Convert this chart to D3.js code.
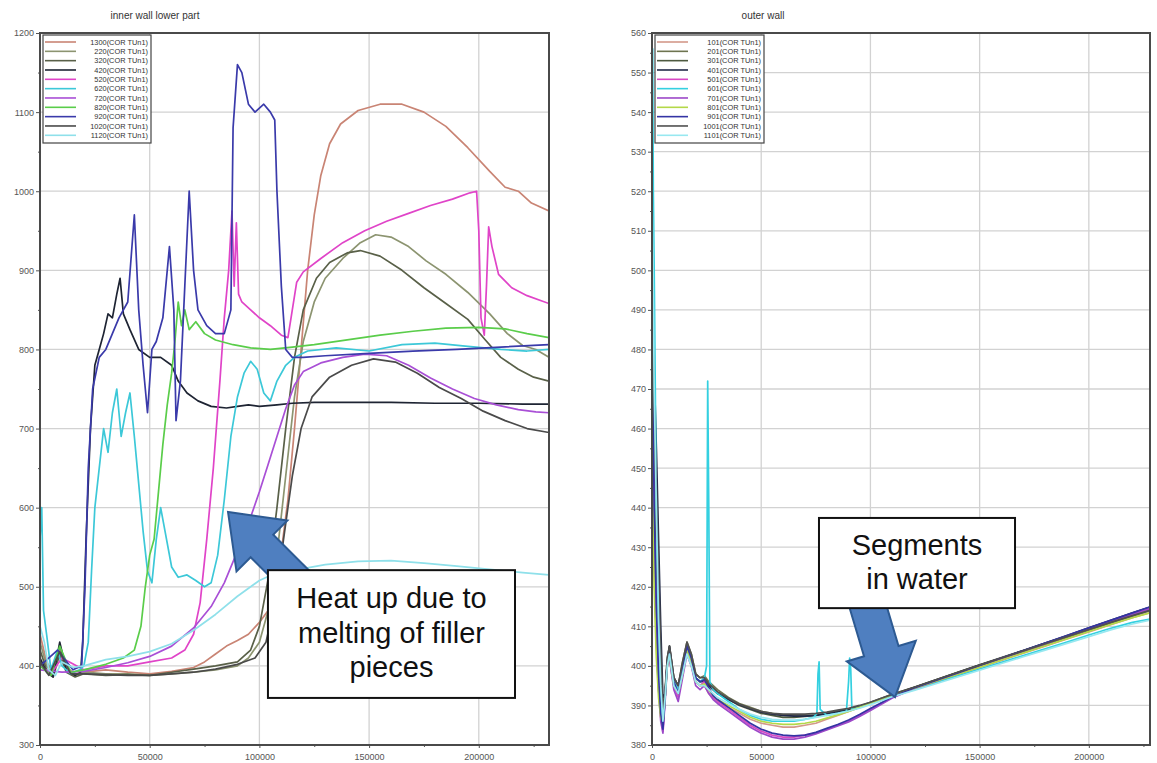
<!DOCTYPE html>
<html><head><meta charset="utf-8">
<script src="https://cdn.jsdelivr.net/npm/d3@7"></script>
<style>body{margin:0;background:#fff} svg{display:block} text{font-family:"Liberation Sans",Arial,sans-serif}</style>
</head><body><svg id="c" width="1157" height="763"></svg>
<script>
// ---------- LEFT PANEL DATA (inner wall lower part) ----------
const leftTitle = "inner wall lower part";
const leftNames = ["1300(COR TUn1)","220(COR TUn1)","320(COR TUn1)","420(COR TUn1)","520(COR TUn1)","620(COR TUn1)","720(COR TUn1)","820(COR TUn1)","920(COR TUn1)","1020(COR TUn1)","1120(COR TUn1)"];
const leftColors = ["#c98474","#8c9470","#596048","#1e2433","#e044c8","#3cc8d8","#a94fd6","#5acd4a","#3a3aaa","#4a4a4a","#8fe0ea"];
const leftYTicks = [300,400,500,600,700,800,900,1000,1100,1200];
const leftXTicks = [0,50000,100000,150000,200000];

const L130 = [[0,440],[3000,405],[6000,392],[9000,420],[12000,398],[16000,390],[20000,392],[30000,395],[40000,392],[50000,390],[60000,393],[70000,398],[75000,405],[80000,415],[85000,425],[90000,432],[95000,440],[100000,455],[104000,470],[107000,500],[110000,545],[113000,610],[116000,700],[119000,800],[122000,900],[125000,970],[128000,1020],[132000,1060],[137000,1085],[145000,1102],[155000,1110],[165000,1110],[175000,1100],[185000,1082],[195000,1055],[205000,1025],[212000,1005],[218000,1000],[224000,985],[232000,975]];
const L220 = [[0,430],[3000,400],[6000,388],[9000,425],[12000,395],[16000,388],[20000,392],[30000,390],[40000,390],[50000,388],[60000,390],[70000,392],[80000,395],[90000,400],[95000,410],[100000,430],[104000,470],[108000,540],[112000,640],[116000,740],[120000,810],[125000,860],[130000,890],[138000,915],[146000,935],[153000,945],[160000,942],[168000,930],[176000,912],[185000,895],[195000,872],[205000,845],[213000,820],[220000,805],[226000,800],[232000,790]];
const L320 = [[0,420],[3000,395],[6000,386],[9000,415],[12000,392],[16000,386],[20000,390],[30000,388],[40000,389],[50000,388],[60000,392],[70000,396],[80000,400],[90000,405],[96000,420],[100000,450],[104000,510],[108000,600],[112000,700],[116000,790],[120000,850],[126000,890],[132000,910],[140000,922],[146000,925],[155000,918],[165000,900],[175000,878],[185000,858],[195000,838],[203000,812],[210000,790],[218000,775],[225000,765],[232000,760]];
const L420 = [[0,410],[3000,392],[6000,386],[9000,430],[12000,395],[16000,388],[18500,392],[19500,430],[21000,560],[23000,700],[25000,780],[27000,800],[29000,820],[31000,845],[33000,840],[35000,870],[36500,890],[38000,845],[41000,825],[45000,800],[50000,790],[55000,790],[60000,780],[63000,760],[67000,745],[72000,735],[78000,728],[85000,726],[90000,728],[95000,730],[100000,728],[108000,730],[115000,732],[125000,733],[140000,733],[160000,733],[180000,732],[200000,732],[220000,731],[232000,731]];
const L520 = [[0,400],[5000,390],[10000,410],[20000,395],[30000,400],[40000,400],[50000,405],[60000,410],[66000,420],[70000,440],[73000,480],[76000,560],[79000,650],[82000,760],[84000,840],[86000,900],[87500,975],[88500,880],[89500,960],[90500,870],[92000,860],[96000,850],[100000,840],[105000,830],[110000,818],[113000,815],[115000,850],[117000,885],[120000,898],[128000,915],[138000,935],[148000,950],[158000,962],[168000,972],[178000,982],[188000,990],[196000,998],[199000,1000],[200000,950],[201000,840],[202500,818],[203500,880],[204500,955],[206000,930],[209000,895],[215000,878],[222000,868],[232000,858]];
const L620 = [[0,560],[800,600],[1600,470],[3000,440],[5000,395],[8000,420],[10000,400],[14000,390],[18000,395],[20000,400],[22000,430],[23500,520],[25000,600],[27000,650],[29000,700],[31000,670],[33000,720],[35000,750],[37000,690],[39000,720],[41000,745],[43000,690],[45000,630],[47000,570],[49000,520],[51000,505],[53000,560],[55000,600],[57000,570],[60000,525],[63000,512],[67000,515],[71000,508],[75000,500],[78000,505],[81000,540],[84000,610],[87000,690],[90000,740],[93000,770],[96000,785],[99000,775],[102000,745],[105000,735],[108000,760],[112000,780],[116000,790],[122000,798],[135000,802],[150000,798],[165000,806],[180000,808],[195000,804],[210000,800],[222000,798],[232000,800]];
const L720 = [[0,395],[10000,392],[20000,393],[30000,398],[40000,404],[50000,412],[60000,425],[70000,448],[78000,475],[84000,505],[90000,545],[95000,580],[100000,620],[104000,655],[108000,690],[112000,725],[116000,755],[120000,772],[128000,783],[138000,790],[148000,794],[158000,792],[168000,780],[178000,764],[188000,750],[198000,738],[208000,730],[218000,724],[226000,721],[232000,720]];
const L820 = [[0,400],[5000,388],[9000,425],[14000,392],[20000,395],[30000,402],[38000,410],[43000,420],[46000,450],[48000,500],[50000,540],[52000,560],[54000,620],[56000,680],[58000,730],[60000,770],[61500,810],[63000,860],[64500,830],[66000,850],[68000,825],[71000,835],[75000,820],[80000,812],[88000,806],[96000,802],[105000,800],[115000,803],[125000,806],[140000,812],[155000,818],[170000,823],[185000,827],[200000,828],[212000,826],[222000,820],[232000,815]];
const L920 = [[0,400],[8000,420],[15000,395],[19000,400],[20500,500],[22000,650],[24000,750],[27000,790],[30000,800],[33000,820],[36000,840],[40000,860],[43000,970],[45000,850],[47000,780],[49000,720],[51000,800],[53000,810],[56000,840],[59000,930],[61000,850],[62000,710],[64000,760],[66000,880],[68000,1000],[70000,900],[72000,850],[76000,830],[80000,820],[84000,820],[87000,850],[88000,1080],[90000,1160],[92000,1150],[95000,1110],[98000,1100],[102000,1110],[105000,1100],[107000,1090],[108000,1000],[110000,880],[112000,800],[115000,790],[120000,790],[130000,792],[150000,795],[170000,798],[190000,800],[210000,803],[232000,806]];
const L1020 = [[0,405],[4000,388],[9000,418],[14000,390],[20000,390],[30000,389],[40000,388],[50000,388],[60000,390],[70000,392],[80000,396],[90000,402],[98000,410],[103000,430],[107000,480],[111000,560],[115000,640],[119000,700],[124000,740],[132000,765],[142000,780],[152000,788],[162000,784],[172000,770],[182000,752],[192000,738],[202000,722],[212000,710],[222000,700],[232000,695]];
const L1120 = [[0,450],[2000,430],[4000,395],[7000,388],[10000,405],[15000,398],[20000,400],[30000,408],[40000,412],[50000,418],[60000,428],[70000,445],[80000,465],[90000,488],[100000,508],[108000,518],[118000,522],[130000,528],[145000,532],[160000,533],[175000,530],[190000,526],[205000,522],[220000,518],[232000,515]];
const leftSeriesValues = [L130,L220,L320,L420,L520,L620,L720,L820,L920,L1020,L1120];

// ---------- RIGHT PANEL DATA (outer wall) ----------
const rightTitle = "outer wall";
const rightNames = ["101(COR TUn1)","201(COR TUn1)","301(COR TUn1)","401(COR TUn1)","501(COR TUn1)","601(COR TUn1)","701(COR TUn1)","801(COR TUn1)","901(COR TUn1)","1001(COR TUn1)","1101(COR TUn1)"];
const rightColors = ["#d4998a","#6e7450","#4e5a40","#222a48","#d848c4","#34d0e0","#9c48c8","#b4d848","#3434a4","#505050","#98e8f0"];
const rightYTicks = [380,390,400,410,420,430,440,450,460,470,480,490,500,510,520,530,540,550,560];
const rightXTicks = [0,50000,100000,150000,200000];
const timeR = [0,500,1000,2000,3000,4000,5000,6000,7000,8000,9000,10000,12000,14000,16000,18000,20000,22000,24000,26000,28000,30000,35000,40000,45000,50000,55000,60000,65000,70000,75000,80000,85000,90000,95000,100000,105000,110000,120000,130000,140000,150000,160000,170000,180000,190000,200000,210000,220000,230000];
const R101 = [455,440,425,405,394,388,386,393,400,402,398,395,393,399,403,400,396,395,395,393,392,391,389.5,388,386.5,385.5,385,384.5,384.5,385,385.5,386.5,387.5,388.5,389.5,390.5,391.5,392.5,394,395.9,397.8,399.6,401.4,403.2,405,406.8,408.6,410.4,412.2,413.8];
const R201 = [490,478,462,440,418,400,388,394,402,405,401,397,395,401,406,403,398,397,397.5,396,395,394,392,390.5,389.5,388.5,388,387.5,387.5,387.5,387.5,388,388.5,389,389.5,390.5,391.5,392.5,394.3,396.2,398.1,400,401.8,403.6,405.4,407.2,409,410.8,412.6,414.3];
const R301 = [470,462,450,428,408,394,386,392,401,404,400,396,394,400,405,402,397,396,396.5,395,394,393,391.5,390,389,388,387.5,387,387,387.2,387.5,388,388.5,389,389.8,390.8,391.8,392.8,394.6,396.5,398.4,400.3,402.1,403.9,405.7,407.5,409.3,411.1,412.9,414.6];
const R401 = [505,492,475,455,432,410,392,393,401,405,401,397,395,400,405,402,397,396,396,395,394,393,391.5,390.2,389.2,388.3,387.8,387.5,387.3,387.3,387.5,387.8,388.3,388.8,389.5,390.5,391.5,392.6,394.5,396.4,398.3,400.2,402,403.9,405.8,407.7,409.6,411.5,413.4,415.2];
const R501 = [470,455,432,410,396,387,383.5,392,401,403,399,395,392,398,404,401,396,395,396,394,392,391,389,387,385,383.5,382.5,382,382,382.5,383,384,385,386,387.5,389,390.5,392,394.3,396.2,398.1,400,401.9,403.7,405.6,407.5,409.4,411.3,413.1,415];
const R601t = [0,300,600,1000,1500,2000,3000,4000,5000,6000,7000,8000,9000,10000,12000,14000,16000,18000,20000,22000,24000,25000,25500,26000,26500,28000,30000,35000,40000,45000,50000,55000,60000,65000,70000,74000,75500,76000,76500,77000,80000,85000,89000,90000,90500,91000,91500,95000,100000,105000,110000,120000,130000,140000,150000,160000,170000,180000,190000,200000,210000,220000,230000];
const R601 = [545,556,520,500,470,440,410,392,385,392,400,404,400,396,394,399,405,402,397,396,397,400,472,440,396,394,393,391,389,387.5,386.5,386,386,386,386.5,387,388,398,401,389,387.5,388,388.5,396,402,399,389,389.5,390.5,391.5,392.5,394,395.8,397.5,399.2,400.9,402.6,404.3,406,407.8,409.5,411,412];
const R701 = [462,448,428,407,394,386,383,391,400,402,398,394,391,397,403,400,395,394,395,393,391.5,390.5,388.5,386.5,384.5,383,382,381.5,381.5,382,382.8,383.8,384.8,385.8,387.2,388.7,390.3,391.9,394.2,396.1,398,399.9,401.8,403.6,405.5,407.4,409.3,411.2,413,414.8];
const R801 = [450,438,420,402,392,387,385,392,400,403,399,395,393,398,404,401,396,395,395.5,394,392.5,391.5,390,388.5,387,386,385.5,385.2,385.2,385.5,386,386.8,387.6,388.5,389.5,390.5,391.6,392.7,394.3,396.1,397.9,399.7,401.5,403.3,405.1,406.9,408.7,410.5,412.2,413.7];
const R901 = [480,465,440,415,398,388,384,392,401,404,400,396,393,399,405,402,397,396,396.5,394.5,392.5,391.5,389.5,387.5,385.5,384,383,382.5,382.3,382.5,383.2,384.2,385.2,386.3,387.7,389.2,390.7,392.2,394.4,396.3,398.2,400.1,402,403.9,405.8,407.7,409.6,411.5,413.4,415.3];
const R1001 = [495,482,466,445,424,404,389,393,402,405,401,397,395,401,406,403,398,397,397,395.5,394.5,393.5,391.8,390.3,389.3,388.5,388,387.8,387.8,387.8,388,388.3,388.8,389.3,390,390.8,391.8,392.8,394.6,396.5,398.4,400.2,402,403.8,405.6,407.4,409.2,411,412.7,414.4];
const R1101 = [520,500,470,440,412,395,386,392,400,403,399,395,393,398,403,400,396,395,395,394,393,392,390.5,389,387.8,387,386.5,386.3,386.3,386.5,387,387.5,388,388.6,389.3,390.2,391.2,392.2,393.8,395.5,397.2,398.9,400.6,402.3,404,405.7,407.4,409.1,410.6,411.8];
const rightSeriesValues = [
  d3.zip(timeR,R101), d3.zip(timeR,R201), d3.zip(timeR,R301), d3.zip(timeR,R401), d3.zip(timeR,R501),
  d3.zip(R601t,R601), d3.zip(timeR,R701), d3.zip(timeR,R801), d3.zip(timeR,R901), d3.zip(timeR,R1001), d3.zip(timeR,R1101)];

// ---------- ANNOTATIONS (data coordinates) ----------
const leftNote = {lines:["Heat up due to","melting of filler","pieces"], box:[103900,521,216500,359.5], tail:[122150,493.4], tip:[85700,594.5]};
const rightNote = {lines:["Segments","in water"], box:[76450,437.4,166200,414.6], tail:[97970,416.7], tip:[111250,392.1]};

// ---------- DRAWING ----------
const svg = d3.select("#c");
svg.append("rect").attr("width",1157).attr("height",763).attr("fill","#fff");

function arrowPts(t, h, sw, hw, hl){
  const dx=h[0]-t[0], dy=h[1]-t[1], L=Math.hypot(dx,dy), ux=dx/L, uy=dy/L, nx=-uy, ny=ux;
  const bx=h[0]-ux*hl, by=h[1]-uy*hl;
  return [[t[0]+nx*sw,t[1]+ny*sw],[bx+nx*sw,by+ny*sw],[bx+nx*hw,by+ny*hw],[h[0],h[1]],[bx-nx*hw,by-ny*hw],[bx-nx*sw,by-ny*sw],[t[0]-nx*sw,t[1]-ny*sw]];
}

function panel(o){
  const g = svg.append("g");
  const x = d3.scaleLinear().domain(o.xDomain).range([o.left,o.right]);
  const y = d3.scaleLinear().domain(o.yDomain).range([o.bottom,o.top]);
  // grid
  g.append("g").selectAll("line").data(o.xTicks.filter(d=>d>o.xDomain[0])).join("line")
    .attr("x1",d=>x(d)).attr("x2",d=>x(d)).attr("y1",o.top).attr("y2",o.bottom)
    .attr("stroke","#d2d2d2").attr("stroke-width",1.3);
  g.append("g").selectAll("line").data(o.yTicks.filter(d=>d>o.yDomain[0]&&d<o.yDomain[1])).join("line")
    .attr("y1",d=>y(d)).attr("y2",d=>y(d)).attr("x1",o.left).attr("x2",o.right)
    .attr("stroke","#d2d2d2").attr("stroke-width",1.3);
  // clip
  const cid = "clip"+o.key;
  svg.append("clipPath").attr("id",cid).append("rect")
    .attr("x",o.left).attr("y",o.top).attr("width",o.right-o.left).attr("height",o.bottom-o.top);
  const series = o.values.map((v,i)=>({name:o.names[i],color:o.colors[i],values:v}));
  const line = d3.line().x(d=>x(d[0])).y(d=>y(d[1])).curve(d3.curveLinear);
  g.append("g").attr("clip-path",`url(#${cid})`).selectAll("path").data(series).join("path")
    .attr("d",d=>line(d.values)).attr("fill","none").attr("stroke",d=>d.color)
    .attr("stroke-width",1.7).attr("stroke-linejoin","round");
  // axes
  const styleAxis = sel => { sel.select(".domain").remove(); sel.selectAll(".tick line").attr("stroke","#555");
    sel.selectAll("text").attr("font-size","9px").attr("fill","#555").attr("font-family","Liberation Sans, Arial, sans-serif"); };
  g.append("g").attr("transform",`translate(${o.left},0)`)
    .call(d3.axisLeft(y).tickValues(o.yTicks).tickSize(4).tickPadding(2).tickFormat(d3.format("d"))).call(styleAxis);
  g.append("g").attr("transform",`translate(${o.left},0)`)
    .call(d3.axisLeft(y).tickValues(o.yMinor).tickSize(2).tickFormat("")).call(styleAxis);
  g.append("g").attr("transform",`translate(0,${o.bottom})`)
    .call(d3.axisBottom(x).tickValues(o.xTicks).tickSize(3).tickPadding(6).tickFormat(d3.format("d"))).call(styleAxis);
  g.append("g").attr("transform",`translate(0,${o.bottom})`)
    .call(d3.axisBottom(x).tickValues(o.xMinor).tickSize(2).tickFormat("")).call(styleAxis);
  // frame
  g.append("rect").attr("x",o.left).attr("y",o.top).attr("width",o.right-o.left).attr("height",o.bottom-o.top)
    .attr("fill","none").attr("stroke","#4a4a4a").attr("stroke-width",2);
  // title
  g.append("text").attr("x",o.left+o.titleDx).attr("y",19).attr("text-anchor","middle")
    .attr("font-size","10px").attr("fill","#333").text(o.title);
  // legend
  const lg = g.append("g");
  lg.append("rect").attr("x",o.left+3).attr("y",o.top+2).attr("width",o.legendW).attr("height",108)
    .attr("fill","#fff").attr("stroke","#444").attr("stroke-width",1.2);
  const it = lg.selectAll("g").data(series).join("g").attr("transform",(d,i)=>`translate(${o.left+3},${o.top+9+i*9.33})`);
  it.append("line").attr("x1",2).attr("x2",33).attr("stroke",d=>d.color).attr("stroke-width",1.6);
  it.append("text").attr("x",o.legendW-3).attr("y",2.7).attr("text-anchor","end").attr("font-size","7.4px").attr("fill","#333").text(d=>d.name);
  // annotation
  const n = o.note;
  const pts = arrowPts([x(n.tail[0]),y(n.tail[1])],[x(n.tip[0]),y(n.tip[1])],o.shaftHW,36,48);
  g.append("path").attr("d",d3.line()(pts)+"Z").attr("fill","#4f7fc0").attr("stroke","#2d5a92").attr("stroke-width",2).attr("stroke-linejoin","miter");
  const bx0=x(n.box[0]), by0=y(n.box[1]), bx1=x(n.box[2]), by1=y(n.box[3]);
  g.append("rect").attr("x",bx0).attr("y",by0).attr("width",bx1-bx0).attr("height",by1-by0)
    .attr("fill","#fff").attr("stroke","#111").attr("stroke-width",2);
  g.append("g").selectAll("text").data(n.lines).join("text")
    .attr("x",(bx0+bx1)/2).attr("y",(d,i)=>by0+o.noteFirst+i*34.5).attr("text-anchor","middle")
    .attr("font-size","29px").attr("fill","#111").text(d=>d);
}

panel({key:"L", left:40, right:549, top:33, bottom:745, xDomain:[0,232000], yDomain:[300,1200],
  xTicks:leftXTicks, xMinor:[25000,75000,125000,175000,225000], yTicks:leftYTicks,
  yMinor:[350,450,550,650,750,850,950,1050,1150], title:leftTitle, titleDx:115,
  names:leftNames, colors:leftColors, values:leftSeriesValues, legendW:108, note:leftNote, noteFirst:38, shaftHW:16});
panel({key:"R", left:652, right:1150, top:33, bottom:745, xDomain:[0,228000], yDomain:[380,560],
  xTicks:rightXTicks, xMinor:[25000,75000,125000,175000,225000], yTicks:rightYTicks,
  yMinor:rightYTicks.slice(0,-1).map(d=>d+5), title:rightTitle, titleDx:111,
  names:rightNames, colors:rightColors, values:rightSeriesValues, legendW:109, note:rightNote, noteFirst:37, shaftHW:18});
</script></body></html>
